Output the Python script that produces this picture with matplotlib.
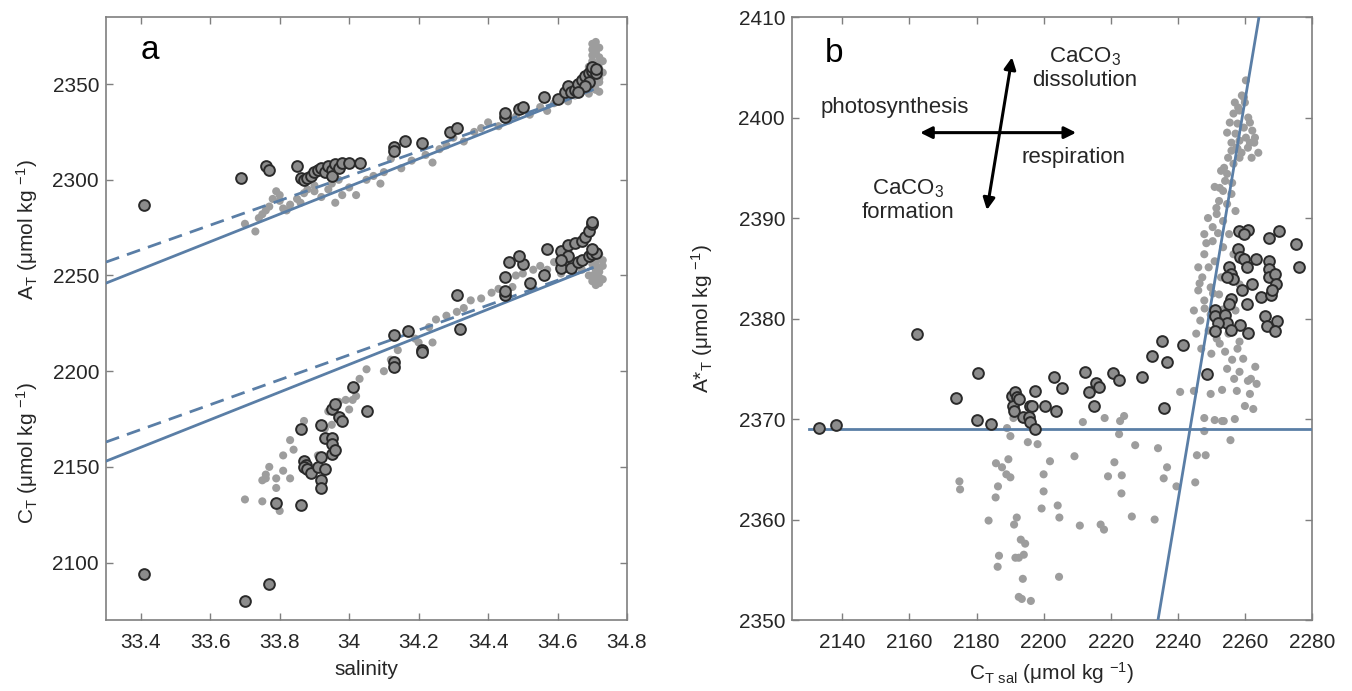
import matplotlib
matplotlib.use("Agg")
import matplotlib.pyplot as plt
from matplotlib.ticker import FuncFormatter

plt.rcParams['font.family'] = ['Liberation Sans', 'DejaVu Sans']
plt.rcParams['mathtext.default'] = 'regular'

# ---- panel a: salinity vs A_T / C_T ----
at_circ_sal = [33.41, 33.69, 33.76, 33.77, 33.85, 33.86, 33.87, 33.88, 33.89, 33.90, 33.91, 33.92,
               33.93, 33.94, 33.95, 33.95, 33.96, 33.97, 33.98, 34.00, 34.03, 34.13, 34.13, 34.16,
               34.21, 34.29, 34.31, 34.45, 34.45, 34.49, 34.50, 34.56, 34.60, 34.62, 34.63, 34.64,
               34.65, 34.66, 34.67, 34.68, 34.69, 34.70, 34.70, 34.71, 34.69, 34.71, 34.68, 34.66]
at_circ_val = [2287, 2301, 2307, 2305, 2307, 2301, 2300, 2301, 2302, 2304, 2305, 2306,
               2304, 2307, 2305, 2302, 2308, 2306, 2309, 2309, 2309, 2317, 2315, 2320,
               2319, 2325, 2327, 2333, 2335, 2337, 2338, 2343, 2342, 2346, 2349, 2346,
               2347, 2350, 2352, 2354, 2356, 2357, 2359, 2356, 2351, 2358, 2349, 2346]

at_dot_sal = [33.70, 33.73, 33.74, 33.75, 33.76, 33.77, 33.78, 33.79, 33.80, 33.80, 33.81, 33.82,
              33.83, 33.85, 33.86, 33.87, 33.88, 33.90, 33.90, 33.92, 33.94, 33.95, 33.96, 33.97,
              33.98, 34.00, 34.02, 34.05, 34.07, 34.09, 34.10, 34.12, 34.15, 34.18, 34.22, 34.24,
              34.26, 34.28, 34.30, 34.33, 34.36, 34.38, 34.40, 34.43, 34.46, 34.48, 34.50, 34.52,
              34.55, 34.57, 34.59, 34.61, 34.63, 34.65, 34.67, 34.69,
              34.71, 34.71, 34.70, 34.71, 34.72, 34.70, 34.71, 34.72, 34.70, 34.72, 34.71, 34.70, 34.72,
              34.70, 34.72, 34.71, 34.70, 34.72, 34.71, 34.70, 34.72, 34.71, 34.73, 34.73, 34.69]
at_dot_val = [2277, 2273, 2280, 2282, 2284, 2286, 2290, 2294, 2292, 2289, 2285, 2284,
              2287, 2290, 2288, 2293, 2295, 2294, 2297, 2291, 2295, 2298, 2288, 2300,
              2292, 2296, 2292, 2300, 2302, 2298, 2304, 2311, 2306, 2310, 2313, 2309,
              2316, 2318, 2322, 2320, 2325, 2327, 2330, 2328, 2331, 2333, 2336, 2334,
              2338, 2336, 2340, 2343, 2341, 2344, 2347, 2345,
              2372, 2370, 2368, 2366, 2364, 2362, 2360, 2358, 2355, 2353, 2350, 2348, 2346,
              2371, 2369, 2367, 2365, 2361, 2357, 2353, 2351, 2347, 2356, 2362, 2359]

ct_circ_sal = [33.41, 33.70, 33.77, 33.79, 33.86, 33.86, 33.92, 33.87, 33.875, 33.87, 33.88, 33.89,
               33.91, 33.93, 33.92, 33.92, 33.93, 33.92, 33.95, 33.96, 33.97, 33.98, 33.95, 33.95,
               33.95, 33.96, 34.01, 34.05, 34.13, 34.13, 34.13, 34.17, 34.21, 34.21, 34.32,
               34.31, 34.45, 34.45, 34.45, 34.46, 34.50, 34.49, 34.52, 34.57, 34.56, 34.61, 34.63,
               34.65, 34.67, 34.68, 34.69, 34.70, 34.70, 34.62, 34.61, 34.64, 34.66, 34.67, 34.69,
               34.70, 34.71, 34.70, 34.63, 34.61]
ct_circ_val = [2094, 2080, 2089, 2131, 2130, 2170, 2172, 2153, 2151, 2150, 2149, 2147,
               2150, 2149, 2143, 2139, 2165, 2155, 2180, 2183, 2176, 2174, 2165, 2162,
               2157, 2159, 2192, 2179, 2205, 2202, 2219, 2221, 2211, 2210, 2222,
               2240, 2240, 2242, 2249, 2257, 2256, 2260, 2246, 2264, 2250, 2263, 2266,
               2267, 2268, 2270, 2273, 2277, 2278, 2255, 2254, 2254, 2257, 2258, 2260,
               2261, 2262, 2264, 2260, 2258]

ct_dot_sal = [33.70, 33.75, 33.80, 33.75, 33.76, 33.76, 33.77, 33.79, 33.79, 33.81, 33.83, 33.81,
              33.84, 33.83, 33.87, 33.91, 33.93, 33.94, 33.95, 33.97, 33.99, 34.00, 34.01, 34.02,
              34.03, 34.05, 34.10, 34.12, 34.14, 34.19, 34.20, 34.24, 34.23, 34.25, 34.28, 34.31,
              34.33, 34.35, 34.38, 34.41, 34.43, 34.47, 34.48, 34.50, 34.53, 34.55, 34.57, 34.59,
              34.61, 34.63, 34.67,
              34.71, 34.72, 34.70, 34.72, 34.71, 34.72, 34.70, 34.71, 34.69, 34.72, 34.71,
              34.70, 34.72, 34.73, 34.71, 34.70, 34.72, 34.73, 34.71, 34.70, 34.73]
ct_dot_val = [2133, 2132, 2127, 2143, 2144, 2146, 2150, 2139, 2144, 2148, 2144, 2156,
              2159, 2164, 2174, 2156, 2170, 2179, 2172, 2184, 2185, 2180, 2185, 2187,
              2196, 2201, 2200, 2206, 2211, 2217, 2215, 2215, 2223, 2227, 2229, 2231,
              2233, 2237, 2238, 2241, 2243, 2244, 2250, 2251, 2253, 2255, 2253, 2257,
              2251, 2255, 2253,
              2262, 2259, 2256, 2254, 2251, 2249, 2247, 2245, 2250, 2246, 2257,
              2260, 2261, 2255, 2253, 2250, 2252, 2248, 2248, 2258, 2258]

# fitted lines (end points)
line_sal = [33.3, 34.7]
at_solid = [2246, 2347]
at_dashed = [2257, 2347]
ct_solid = [2153, 2254]
ct_dashed = [2163, 2254]

# ---- panel b: C_T,sal vs A*_T ----
b_circ_ct = [2133.1, 2138.0, 2162.3, 2174.0, 2180.5, 2180.2, 2184.2, 2190.6, 2191.6, 2192.2, 2191.0,
             2191.2, 2192.8, 2194.0, 2195.5, 2195.9, 2196.5, 2195.9, 2197.5, 2197.3, 2200.3, 2203.6,
             2203.0, 2205.6, 2212.4, 2213.5, 2215.7, 2216.6, 2215.1, 2220.7, 2222.5, 2229.4, 2232.2,
             2235.2, 2236.8, 2241.5, 2235.8, 2248.8,
             2258.2, 2260.9, 2259.7, 2270.2, 2267.1, 2275.1, 2276.0, 2257.8, 2258.4, 2259.7, 2260.7,
             2263.4, 2255.3, 2255.9, 2256.6, 2254.7, 2267.1, 2267.3, 2267.1, 2268.9, 2269.3, 2262.0,
             2259.1, 2264.7, 2267.8, 2268.2, 2255.9, 2255.3, 2260.7, 2251.0, 2251.0, 2254.1, 2254.7,
             2252.0, 2258.4, 2255.9, 2251.0, 2260.9, 2266.0, 2266.6, 2269.6, 2269.0]
b_circ_at = [2369.1, 2369.4, 2378.5, 2372.1, 2374.6, 2369.9, 2369.5, 2372.3, 2372.7, 2372.2, 2371.3,
             2370.8, 2372.0, 2370.2, 2370.2, 2371.3, 2371.3, 2369.7, 2369.0, 2372.8, 2371.3, 2370.8,
             2374.2, 2373.1, 2374.7, 2372.7, 2373.6, 2373.2, 2371.3, 2374.6, 2373.9, 2374.2, 2376.3,
             2377.8, 2375.7, 2377.4, 2371.1, 2374.5,
             2388.7, 2388.8, 2388.4, 2388.7, 2388.0, 2387.4, 2385.1, 2386.9, 2386.1, 2385.9, 2385.1,
             2385.9, 2385.1, 2384.4, 2383.9, 2384.1, 2385.7, 2384.9, 2384.1, 2384.4, 2383.4, 2383.4,
             2382.8, 2382.1, 2382.3, 2382.8, 2381.9, 2381.4, 2381.4, 2380.9, 2380.3, 2380.4, 2379.6,
             2379.6, 2379.4, 2378.9, 2378.8, 2378.6, 2380.3, 2379.3, 2379.8, 2378.8]

b_dot_ct = [2260.3, 2259.1, 2259.7, 2258.4, 2256.6, 2261.0, 2257.0, 2261.5, 2263.0, 2256.0, 2259.0, 2262.0,
            2257.8, 2259.7, 2262.2, 2257.2, 2260.3, 2254.7, 2258.4, 2262.8, 2260.9, 2264.0, 2257.8, 2256.0,
            2258.4, 2256.6, 2254.7, 2252.9, 2254.1, 2251.0, 2253.5, 2256.0, 2252.3, 2254.7, 2251.6, 2257.2,
            2253.5, 2250.4, 2255.3, 2247.9, 2250.4, 2253.5, 2247.9, 2251.0, 2246.1, 2249.2, 2252.9, 2247.3,
            2249.8, 2246.1, 2252.3, 2247.9, 2244.8, 2249.8, 2253.5, 2246.7, 2249.2, 2257.2, 2258.4, 2256.6,
            2260.9,
            2255.5, 2258.0, 2260.0, 2257.5, 2261.5, 2255.0, 2253.8, 2256.2, 2252.5, 2251.5, 2249.0, 2248.5,
            2252.0, 2246.5, 2248.0, 2250.5, 2245.5, 2247.0, 2250.0, 2252.5, 2256.8, 2259.5, 2261.8, 2263.5,
            2262.5,
            2249.8, 2253.2, 2244.8, 2240.7, 2247.9, 2251.0, 2253.2, 2247.9, 2245.7, 2248.3, 2245.2, 2239.6,
            2236.8, 2235.8, 2234.1, 2233.1, 2226.3, 2227.3, 2224.0, 2222.8, 2218.2, 2222.5, 2221.1, 2219.2,
            2223.3, 2223.2, 2217.0, 2218.0, 2210.8, 2209.2, 2211.7, 2201.9, 2200.0, 2200.0, 2199.4, 2204.2,
            2204.7, 2204.6, 2198.2, 2195.3, 2190.1, 2189.1, 2191.0, 2189.5, 2185.8, 2187.6, 2188.9, 2190.1,
            2186.4, 2185.7, 2174.9, 2175.1, 2183.6, 2192.0, 2191.2, 2186.7, 2186.3, 2191.6, 2192.6, 2194.1,
            2193.2, 2194.5, 2193.8, 2192.6, 2193.5, 2196.2, 2258.4, 2257.0, 2253.7, 2261.5, 2260.9, 2263.1,
            2257.6, 2256.2, 2254.7, 2254.1, 2257.8, 2258.4, 2251.6, 2255.1, 2260.0, 2255.7]
b_dot_at = [2403.7, 2402.2, 2402.0, 2400.7, 2400.4, 2400.0, 2401.5, 2399.5, 2398.0, 2397.5, 2396.5, 2396.0,
            2399.4, 2399.0, 2398.7, 2398.4, 2398.0, 2398.5, 2397.7, 2397.5, 2397.0, 2396.5, 2396.9, 2396.7,
            2396.0, 2395.4, 2394.4, 2394.7, 2393.7, 2393.1, 2392.7, 2392.4, 2391.7, 2391.4, 2390.4, 2390.7,
            2389.7, 2389.1, 2388.4, 2388.4, 2387.7, 2387.1, 2386.4, 2385.7, 2385.1, 2385.1, 2384.1, 2384.1,
            2383.1, 2382.8, 2382.4, 2381.8, 2380.8, 2380.4, 2380.9, 2379.8, 2378.8, 2380.8, 2383.4, 2386.4,
            2385.1,
            2399.5, 2401.0, 2401.5, 2397.0, 2397.5, 2396.0, 2395.0, 2393.5, 2393.0, 2391.0, 2390.0, 2387.5,
            2388.5, 2383.5, 2381.0, 2382.5, 2378.5, 2377.0, 2376.5, 2377.5, 2374.0, 2376.0, 2374.0, 2373.5,
            2371.0,
            2372.5, 2372.9, 2372.8, 2372.7, 2370.1, 2369.9, 2369.8, 2368.8, 2366.4, 2366.4, 2363.7, 2363.3,
            2365.2, 2364.1, 2367.1, 2360.0, 2360.3, 2367.4, 2370.3, 2369.8, 2370.1, 2368.5, 2365.7, 2364.3,
            2364.4, 2362.6, 2359.5, 2359.0, 2359.4, 2366.3, 2369.7, 2365.8, 2364.5, 2362.8, 2361.1, 2361.4,
            2360.2, 2354.3, 2367.5, 2367.7, 2368.3, 2369.1, 2370.1, 2366.0, 2365.6, 2365.2, 2364.5, 2364.2,
            2363.3, 2362.2, 2363.8, 2363.0, 2359.9, 2360.2, 2359.5, 2356.4, 2355.3, 2356.2, 2356.2, 2356.5,
            2358.0, 2357.6, 2354.1, 2352.3, 2352.1, 2351.9, 2374.7, 2370.0, 2369.8, 2372.5, 2373.8, 2375.2,
            2372.8, 2375.9, 2375.0, 2376.7, 2377.0, 2377.7, 2378.0, 2378.5, 2371.3, 2367.9]

hline_x = [2130, 2280]
hline_y = [2369, 2369]
steep_x = [2234.1, 2264.2]
steep_y = [2350, 2410]

LINE = '#5a7ea6'
DOT = '#9d9d9d'
CFACE = '#8c8c8c'
CEDGE = '#2a2a2a'
SPINE = '#7f7f7f'
TXT = '#262626'


def style(ax):
    for s in ax.spines.values():
        s.set_color(SPINE)
        s.set_linewidth(1.2)
    ax.tick_params(direction='in', top=True, right=True, length=5, width=1,
                   color=SPINE, labelcolor=TXT, labelsize=15)
    ax.tick_params(axis='x', pad=9)
    ax.tick_params(axis='y', pad=5)
    ax.xaxis.set_major_formatter(FuncFormatter(lambda v, p: '%g' % v))


fig = plt.figure(figsize=(13.52, 6.91), dpi=100)
ax1 = fig.add_axes([0.0784, 0.1027, 0.3854, 0.8726])
ax2 = fig.add_axes([0.5858, 0.1027, 0.3846, 0.8726])

# panel a
ax1.scatter(at_dot_sal, at_dot_val, s=34, color=DOT, edgecolors='none', zorder=2)
ax1.scatter(ct_dot_sal, ct_dot_val, s=34, color=DOT, edgecolors='none', zorder=2)
ax1.plot(line_sal, at_solid, color=LINE, lw=2, zorder=3)
ax1.plot(line_sal, at_dashed, color=LINE, lw=2, ls=(0, (5, 3)), zorder=3)
ax1.plot(line_sal, ct_solid, color=LINE, lw=2, zorder=3)
ax1.plot(line_sal, ct_dashed, color=LINE, lw=2, ls=(0, (5, 3)), zorder=3)
ax1.scatter(at_circ_sal, at_circ_val, s=60, color=CFACE, edgecolors=CEDGE, linewidths=1.4, zorder=4)
ax1.scatter(ct_circ_sal, ct_circ_val, s=60, color=CFACE, edgecolors=CEDGE, linewidths=1.4, zorder=4)
ax1.set_xlim(33.3, 34.8)
ax1.set_ylim(2070, 2385)
ax1.set_xticks([33.4, 33.6, 33.8, 34.0, 34.2, 34.4, 34.6, 34.8])
ax1.set_yticks([2100, 2150, 2200, 2250, 2300, 2350])
style(ax1)
ax1.set_xlabel('salinity', fontsize=15, color=TXT, labelpad=6)
ax1.text(-0.152, 0.647, r'A$_T$ (μmol kg $^{-1}$)', transform=ax1.transAxes, rotation=90,
         ha='center', va='center', fontsize=15, color=TXT)
ax1.text(-0.152, 0.277, r'C$_T$ (μmol kg $^{-1}$)', transform=ax1.transAxes, rotation=90,
         ha='center', va='center', fontsize=15, color=TXT)
ax1.text(0.084, 0.945, 'a', transform=ax1.transAxes, ha='center', va='center', fontsize=24, color='k')

# panel b
ax2.scatter(b_dot_ct, b_dot_at, s=34, color=DOT, edgecolors='none', zorder=2)
ax2.plot(hline_x, hline_y, color=LINE, lw=2, zorder=3)
ax2.plot(steep_x, steep_y, color=LINE, lw=2, zorder=3)
ax2.scatter(b_circ_ct, b_circ_at, s=60, color=CFACE, edgecolors=CEDGE, linewidths=1.4, zorder=4)
ax2.set_xlim(2125, 2280)
ax2.set_ylim(2350, 2410)
ax2.set_xticks(range(2140, 2281, 20))
ax2.set_yticks(range(2350, 2411, 10))
style(ax2)
ax2.set_xlabel(r'C$_{T\ sal}$ (μmol kg $^{-1}$)', fontsize=15, color=TXT, labelpad=6)
ax2.set_ylabel(r'A*$_T$ (μmol kg $^{-1}$)', fontsize=15, color=TXT)
ax2.yaxis.set_label_coords(-0.148, 0.5)
ax2.text(0.081, 0.94, 'b', transform=ax2.transAxes, ha='center', va='center', fontsize=24, color='k')

arrow = dict(arrowstyle='<|-|>,head_length=0.7,head_width=0.35', lw=2.2, color='k',
             shrinkA=0, shrinkB=0)
ax2.annotate('', xy=(2163.2, 2398.5), xytext=(2209.7, 2398.5), arrowprops=arrow)
ax2.annotate('', xy=(2190.6, 2406.0), xytext=(2183.1, 2390.8), arrowprops=arrow)
ax2.text(2155.7, 2401.0, 'photosynthesis', ha='center', va='center', fontsize=16, color=TXT)
ax2.text(2212.3, 2404.9, 'CaCO$_3$\ndissolution', ha='center', va='center', fontsize=16,
         color=TXT, linespacing=1.1)
ax2.text(2208.8, 2396.0, 'respiration', ha='center', va='center', fontsize=16, color=TXT)
ax2.text(2159.6, 2391.8, 'CaCO$_3$\nformation', ha='center', va='center', fontsize=16,
         color=TXT, linespacing=1.1)

fig.savefig('out.png', dpi=100)
